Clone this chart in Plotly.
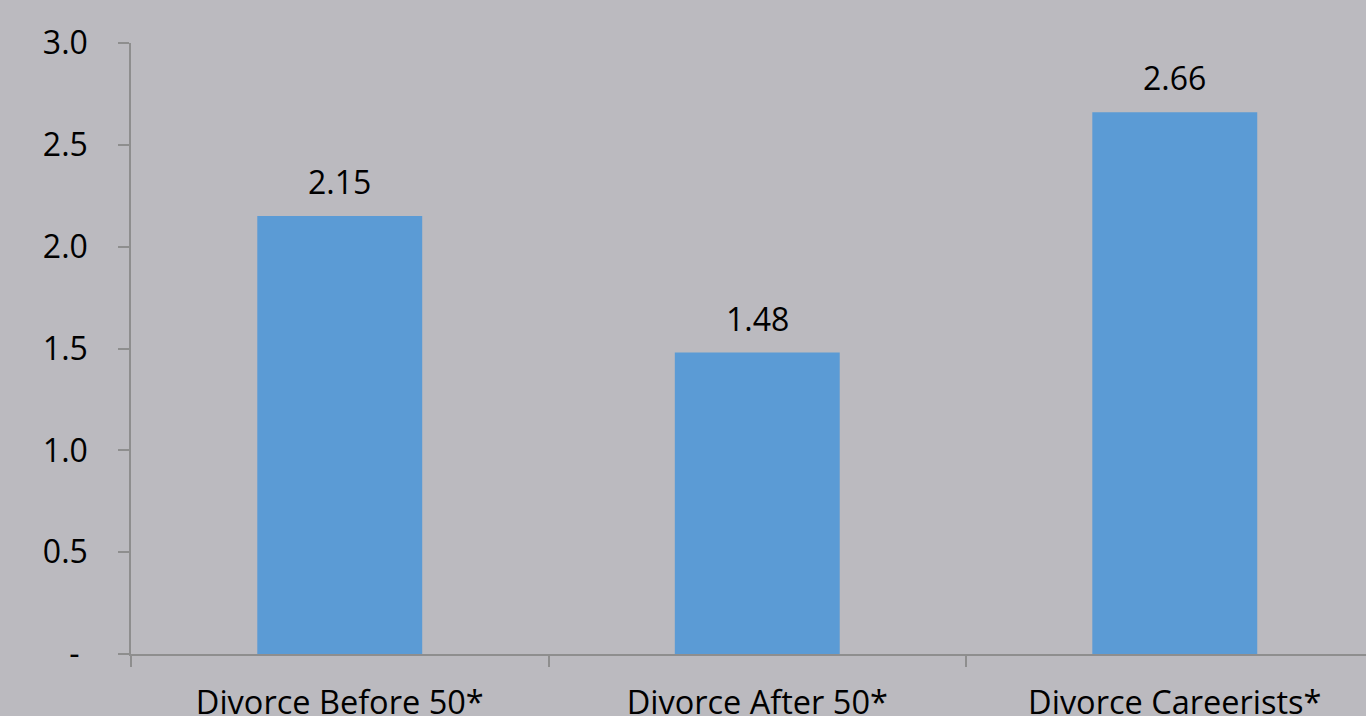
import plotly.graph_objects as go

categories = ["Divorce Before 50*", "Divorce After 50*", "Divorce Careerists*"]
values = [2.15, 1.48, 2.66]
y_tickvals = [0, 0.5, 1.0, 1.5, 2.0, 2.5, 3.0]
y_ticktext = ["-\u00a0", "0.5", "1.0", "1.5", "2.0", "2.5", "3.0"]

BG = "#BBBABF"
BAR = "#5B9BD5"
AXIS = "#8E8E8E"
FONT = "Open Sans"

fig = go.Figure()
fig.add_trace(go.Bar(
    x=categories, y=values,
    marker=dict(color=BAR, line=dict(width=0)),
    hoverinfo="x+y",
))

for c, v in zip(categories, values):
    fig.add_annotation(
        x=c, y=v, text=f"{v:.2f}", showarrow=False,
        yanchor="bottom", yshift=11,
        font=dict(family=FONT, size=32, color="#000000"),
    )

fig.update_layout(
    width=1366, height=716,
    margin=dict(l=131, r=0, t=43, b=62, autoexpand=False),
    paper_bgcolor=BG, plot_bgcolor=BG,
    bargap=0.605,
    showlegend=False,
    font=dict(family=FONT, color="#000000"),
)

fig.update_xaxes(
    type="category",
    range=[-0.5, 2.458],
    automargin=False,
    showline=True, linecolor=AXIS, linewidth=1.5,
    ticks="outside", tickson="boundaries", ticklen=11, tickcolor=AXIS, tickwidth=1.5,
    ticklabelstandoff=19,
    showgrid=False, zeroline=False,
    tickfont=dict(family=FONT, size=32.5, color="#000000"),
)

fig.update_yaxes(
    range=[0, 3],
    automargin=False,
    tickvals=y_tickvals, ticktext=y_ticktext,
    showline=True, linecolor=AXIS, linewidth=1.5,
    ticks="outside", ticklen=11, tickcolor=AXIS, tickwidth=1.5,
    ticklabelstandoff=24,
    showgrid=False, zeroline=False,
    tickfont=dict(family=FONT, size=32, color="#000000"),
)

fig.write_html("out.html", config={"displayModeBar": False})
